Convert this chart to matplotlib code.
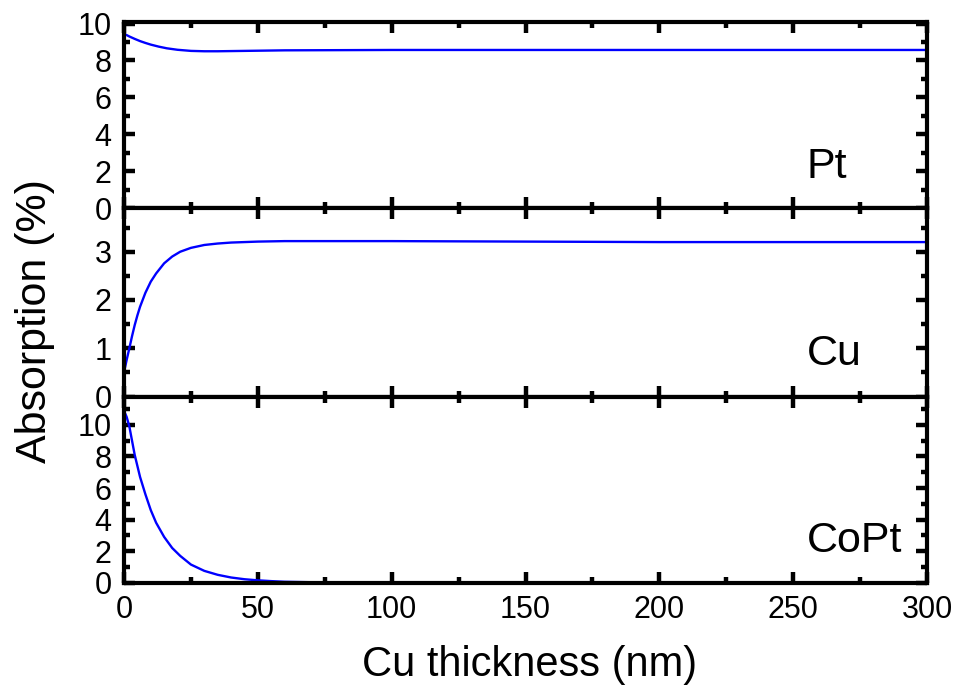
import matplotlib
matplotlib.use("Agg")
import matplotlib.pyplot as plt
from matplotlib.ticker import MultipleLocator

plt.rcParams['font.family'] = ['Liberation Sans', 'DejaVu Sans']

# Absorption (%) in each layer versus Cu spacer thickness (nm)
pt_x = [0, 2, 4, 6, 8, 10, 13, 16, 20, 25, 30, 35, 40, 50, 60, 80, 100, 150, 200, 250, 300]
pt_y = [9.45, 9.3, 9.17, 9.05, 8.95, 8.86, 8.75, 8.66, 8.58, 8.52, 8.5, 8.5, 8.51,
        8.53, 8.55, 8.56, 8.57, 8.57, 8.57, 8.57, 8.57]

cu_x = [0, 1, 2, 3, 4, 5, 6, 8, 10, 12, 15, 18, 21, 25, 30, 35, 40, 50, 60, 80,
        100, 150, 200, 250, 300]
cu_y = [0.5, 0.76, 1.0, 1.25, 1.48, 1.68, 1.86, 2.15, 2.38, 2.55, 2.76, 2.9, 3.0,
        3.08, 3.14, 3.17, 3.19, 3.21, 3.22, 3.22, 3.22, 3.21, 3.2, 3.2, 3.2]

copt_x = [0, 1, 2, 4, 6, 8, 10, 12, 15, 18, 21, 25, 30, 35, 40, 45, 50, 55, 60,
          70, 80, 100, 150, 200, 250, 300]
copt_y = [10.9, 10.5, 9.9, 8.1, 6.7, 5.6, 4.6, 3.8, 2.9, 2.2, 1.7, 1.15, 0.75, 0.5,
          0.33, 0.22, 0.15, 0.1, 0.06, 0.03, 0.01, 0.0, 0.0, 0.0, 0.0, 0.0]

labels = ["Pt", "Cu", "CoPt"]
ylims = [(0, 10.1), (0, 3.9), (0, 11.8)]
ymajor = [2, 1, 2]
yminor = [1, 0.5, 1]
series = [(pt_x, pt_y), (cu_x, cu_y), (copt_x, copt_y)]

W, H = 961, 700
fig = plt.figure(figsize=(W / 100, H / 100), dpi=100)

left, right = 124 / W, 927 / W
edges = [21.7, 208.3, 396.5, 582.7]

axes = []
for i in range(3):
    top = 1 - edges[i] / H
    bot = 1 - edges[i + 1] / H
    ax = fig.add_axes([left, bot, right - left, top - bot])
    axes.append(ax)
    x, y = series[i]
    ax.plot(x, y, color=(0, 0, 1), lw=1.7, solid_capstyle='round')
    ax.set_xlim(0, 300)
    ax.set_ylim(*ylims[i])
    ax.xaxis.set_major_locator(MultipleLocator(50))
    ax.xaxis.set_minor_locator(MultipleLocator(25))
    ax.yaxis.set_major_locator(MultipleLocator(ymajor[i]))
    ax.yaxis.set_minor_locator(MultipleLocator(yminor[i]))
    ax.tick_params(which='both', direction='in', top=True, right=True,
                   width=3.2, color='black', labelsize=22, pad=9)
    ax.tick_params(which='major', length=8)
    ax.tick_params(which='minor', length=4.5)
    for s in ax.spines.values():
        s.set_linewidth(3)
    if i < 2:
        ax.tick_params(labelbottom=False)
    ax.text(0.85, 0.165, labels[i], transform=ax.transAxes, fontsize=31,
            ha='left', va='baseline')

fig.text(35 / W, 1 - 321 / H, "Absorption (%)", rotation=90, fontsize=31,
         ha='center', va='center')
fig.text(530 / W, 1 - 665 / H, "Cu thickness (nm)", fontsize=30,
         ha='center', va='center')

fig.savefig("out.png", dpi=100)
